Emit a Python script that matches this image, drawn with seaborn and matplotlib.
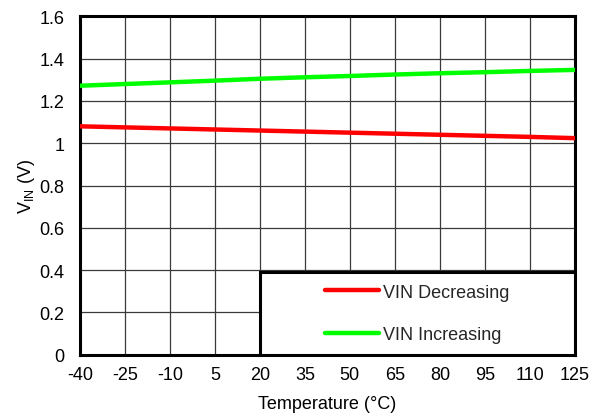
import matplotlib
matplotlib.use("Agg")
import matplotlib.pyplot as plt
import seaborn as sns
import pandas as pd
from matplotlib.patches import Rectangle
from matplotlib.lines import Line2D
from matplotlib.ticker import FuncFormatter

temps = [-40, -25, -10, 5, 20, 35, 50, 65, 80, 95, 110, 125]
vin_decreasing = [1.080, 1.075, 1.070, 1.065, 1.060, 1.055, 1.050, 1.045, 1.040, 1.035, 1.030, 1.024]
vin_increasing = [1.272, 1.280, 1.288, 1.296, 1.305, 1.312, 1.318, 1.325, 1.331, 1.336, 1.342, 1.347]
series_names = ["VIN Decreasing", "VIN Increasing"]
x_ticks = [-40, -25, -10, 5, 20, 35, 50, 65, 80, 95, 110, 125]
y_ticks = [0, 0.2, 0.4, 0.6, 0.8, 1.0, 1.2, 1.4, 1.6]

sns.set_theme(style="white")
plt.rcParams['font.family'] = ['Liberation Sans', 'DejaVu Sans']
plt.rcParams['mathtext.fontset'] = 'custom'
plt.rcParams['mathtext.rm'] = 'Liberation Sans'
plt.rcParams['mathtext.it'] = 'Liberation Sans'
plt.rcParams['axes.unicode_minus'] = False

df = pd.DataFrame({
    "Temperature": temps * 2,
    "VIN": vin_decreasing + vin_increasing,
    "Series": [series_names[0]] * len(temps) + [series_names[1]] * len(temps),
})

fig = plt.figure(figsize=(5.92, 4.14), dpi=100)
ax = fig.add_axes([0.135, 0.141, 0.836, 0.817])

sns.lineplot(data=df, x="Temperature", y="VIN", hue="Series",
             palette={series_names[0]: "#FF0000", series_names[1]: "#00FF00"},
             linewidth=3.2, ax=ax, legend=False, zorder=5)

ax.set_xlim(-40, 125)
ax.set_ylim(0, 1.6)
ax.set_xticks(x_ticks)
ax.set_yticks(y_ticks)
ax.yaxis.set_major_formatter(FuncFormatter(lambda v, p: f"{v:g}"))
ax.grid(True, color="#3a3a3a", linewidth=0.9)
ax.set_axisbelow(True)
for s in ax.spines.values():
    s.set_color("black")
    s.set_linewidth(2.2)
ax.tick_params(axis="both", length=0, labelsize=13, colors="black")
ax.tick_params(axis="y", pad=11)
ax.tick_params(axis="x", pad=8)
ax.set_xlabel("Temperature (°C)", fontsize=13, color="black", labelpad=9)
ax.set_ylabel(r"V$_{\mathrm{IN}}$ (V)", fontsize=13, color="black", labelpad=2)

# legend box
box = Rectangle((20, 0), 105, 0.39, transform=ax.transData, facecolor="white",
                edgecolor="black", linewidth=2.2, zorder=3)
ax.add_patch(box)
handles = [Line2D([], [], color="#FF0000", linewidth=3.2),
           Line2D([], [], color="#00FF00", linewidth=3.2)]
bx0 = (20 - (-40)) / 165
leg = ax.legend(handles, series_names, loc="center",
                bbox_to_anchor=(bx0, 0, 1 - bx0, 0.39 / 1.6),
                frameon=False, fontsize=13, handlelength=3.0,
                handletextpad=0.2, labelspacing=1.4)
leg.set_zorder(6)

fig.savefig("out.png", dpi=100)
